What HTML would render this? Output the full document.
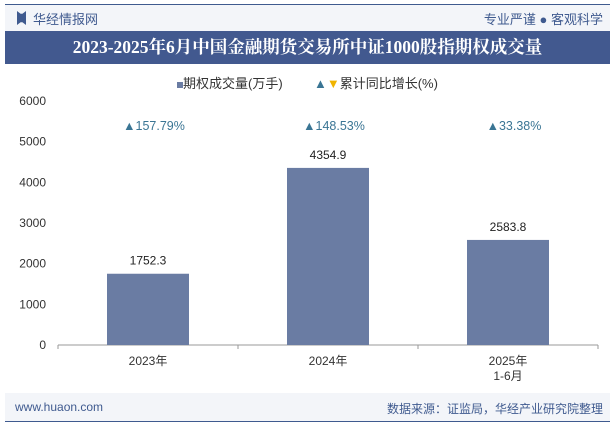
<!DOCTYPE html>
<html><head><meta charset="utf-8"><style>
body{margin:0;width:615px;height:427px;background:#fff;font-family:"Liberation Sans","Noto Sans CJK SC",sans-serif;position:relative;overflow:hidden}
.abs{position:absolute}
</style></head><body>
<div class="abs" style="left:5px;top:4px;width:605px;height:1px;background:#3f5a8f"></div>
<div class="abs" style="left:5px;top:5px;width:605px;height:26px;background:#f3f5f9"></div>
<div class="abs" style="left:17px;top:11px;width:9px;height:14px;background:#3f5a8f;clip-path:polygon(0 0,40% 20%,60% 20%,100% 0,100% 100%,60% 80%,40% 80%,0 100%)"></div>
<div class="abs" style="left:33px;top:9px;font-size:13px;color:#3f5a8f">华经情报网</div>
<div class="abs" style="right:12px;top:9px;font-size:13px;color:#3f5a8f">专业严谨 ● 客观科学</div>
<div class="abs" style="left:5px;top:31px;width:605px;height:33px;background:#42598f;color:#fff;font-family:'Liberation Serif','Noto Serif CJK SC',serif;font-weight:bold;font-size:17.5px;line-height:33px;text-align:center">2023-2025年6月中国金融期货交易所中证1000股指期权成交量</div>
<div class="abs" style="left:0;top:73px;width:615px;text-align:center;font-size:13px;color:#333">
<span><span style="display:inline-block;width:6px;height:6px;background:#6a7ca3;vertical-align:middle"></span>期权成交量(万手)</span>
<span style="display:inline-block;width:24px"></span>
<span><span style="color:#3a7594;font-size:13px">▲</span><span style="color:#f0b400;font-size:13px">▼</span>累计同比增长(%)</span>
</div>
<svg class="abs" style="left:0;top:0" width="615" height="427" id="chart"></svg>
<div class="abs" style="left:5px;top:393px;width:605px;height:28px;background:#f3f5f9"></div>
<div class="abs" style="left:5px;top:421px;width:605px;height:1px;background:#3f5a8f"></div>
<div class="abs" style="left:15px;top:400px;font-size:12px;color:#3f5a8f">www.huaon.com</div>
<div class="abs" style="right:12px;top:400px;font-size:12px;color:#3f5a8f">数据来源：证监局，华经产业研究院整理</div>
<script>
const categories=["2023年","2024年","2025年\n1-6月"];
const volumes=[1752.3,4354.9,2583.8];
const growth=["157.79%","148.53%","33.38%"];
const yTicks=[0,1000,2000,3000,4000,5000,6000];
const svg=document.getElementById('chart');
const NS='http://www.w3.org/2000/svg';
const x0=58,x1=598,y0=345,yTop=101,yMax=6000;
const band=(x1-x0)/categories.length;
const y=v=>y0-(v/yMax)*(y0-yTop);
const xc=i=>x0+band*(i+0.5);
function mk(t,a,txt){const e=document.createElementNS(NS,t);for(const k in a)e.setAttribute(k,a[k]);if(txt!=null)e.textContent=txt;svg.appendChild(e);return e;}
yTicks.forEach(v=>{const t=mk('text',{x:46,y:y(v)+4,'text-anchor':'end','font-size':12,fill:'#333'},v);

});
const ax=mk('line',{x1:x0,x2:x1,y1:y0,y2:y0,stroke:'#999'});


for(let i=0;i<=categories.length;i++){const tk=mk('line',{x1:x0+band*i,x2:x0+band*i,y1:y0,y2:y0+4,stroke:'#999'});

}
categories.forEach((c,i)=>{
const bw=82;
const b=mk('rect',{x:xc(i)-bw/2,y:y(volumes[i]),width:bw,height:y0-y(volumes[i]),fill:'#6a7ca3'});


const vl=mk('text',{x:xc(i),y:y(volumes[i])-9,'text-anchor':'middle','font-size':12,fill:'#222'},volumes[i].toFixed(1));


c.split('\n').forEach((ln,j)=>{const t=mk('text',{x:xc(i),y:y0+20+j*15,'text-anchor':'middle','font-size':12,fill:'#333'},ln);

});
const g=mk('text',{x:xc(i)+6,y:130,'text-anchor':'middle','font-size':12.5,fill:'#3a7594'},'▲'+growth[i]);


});
</script>
</body></html>
